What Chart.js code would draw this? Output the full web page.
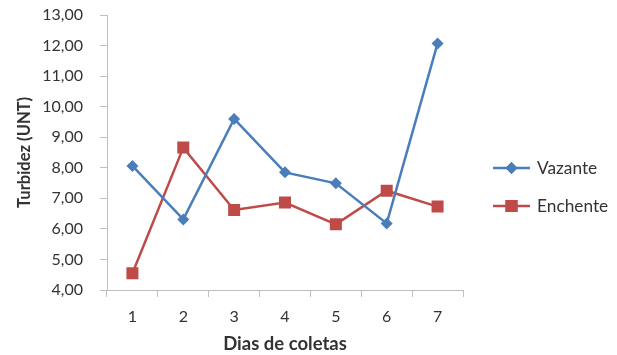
<!DOCTYPE html>
<html>
<head>
<meta charset="utf-8">
<script src="https://cdn.jsdelivr.net/npm/chart.js@4.4.1/dist/chart.umd.min.js"></script>
<style>
  html, body { margin: 0; padding: 0; background: #ffffff; }
  #wrap { width: 617px; height: 355px; }
</style>
</head>
<body>
<div id="wrap"><canvas id="c" width="617" height="355"></canvas></div>
<script>
// Turbidez por dia de coleta
const dias = ['1', '2', '3', '4', '5', '6', '7'];
const vazante = [8.06, 6.31, 9.60, 7.85, 7.49, 6.18, 12.07];
const enchente = [4.55, 8.66, 6.62, 6.86, 6.15, 7.25, 6.73];
const yTicks = [4, 5, 6, 7, 8, 9, 10, 11, 12, 13];

const BLUE = '#4a7ebb';
const RED = '#be4b48';
const AXIS = '#bfbfbf';
const TEXT = '#333333';
const FONT = 'Lato, "Open Sans", sans-serif';

// Legend on the right: line with marker, then the series name
const sideLegend = {
  id: 'sideLegend',
  afterDraw(chart) {
    const ctx = chart.ctx;
    const x0 = chart.chartArea.right + 30;
    const items = [
      { label: 'Vazante', color: BLUE, style: 'rectRot', r: 6, y: 168 },
      { label: 'Enchente', color: RED, style: 'rect', r: 8.5, y: 206 }
    ];
    ctx.save();
    items.forEach(it => {
      ctx.strokeStyle = it.color;
      ctx.lineWidth = 2.5;
      ctx.beginPath();
      ctx.moveTo(x0, it.y);
      ctx.lineTo(x0 + 37, it.y);
      ctx.stroke();
      ctx.fillStyle = it.color;
      Chart.helpers.drawPoint(ctx, { pointStyle: it.style, radius: it.r, borderWidth: 0 }, x0 + 18.5, it.y);
      ctx.fill();
      ctx.fillStyle = TEXT;
      ctx.font = '17.3px ' + FONT;
      ctx.textBaseline = 'middle';
      ctx.textAlign = 'left';
      ctx.fillText(it.label, x0 + 44, it.y);
    });
    ctx.restore();
  }
};

new Chart(document.getElementById('c'), {
  type: 'line',
  data: {
    labels: dias,
    datasets: [
      {
        label: 'Vazante',
        data: vazante,
        borderColor: BLUE,
        backgroundColor: BLUE,
        borderWidth: 2.5,
        pointStyle: 'rectRot',
        pointRadius: 6,
        pointBorderWidth: 0,
        tension: 0
      },
      {
        label: 'Enchente',
        data: enchente,
        borderColor: RED,
        backgroundColor: RED,
        borderWidth: 2.5,
        pointStyle: 'rect',
        pointRadius: 8.5,
        pointBorderWidth: 0,
        tension: 0
      }
    ]
  },
  options: {
    responsive: false,
    animation: false,
    devicePixelRatio: 1,
    layout: { padding: { top: 15, right: 154, bottom: 0, left: 0 } },
    plugins: {
      legend: { display: false },
      tooltip: { enabled: false }
    },
    scales: {
      x: {
        offset: true,
        grid: { offset: true, drawOnChartArea: false, drawTicks: true, tickLength: 7, color: AXIS, lineWidth: 1 },
        border: { color: AXIS, width: 1 },
        ticks: { color: TEXT, font: { family: FONT, size: 16 }, padding: 10, maxRotation: 0 },
        title: { display: true, text: 'Dias de coletas', color: TEXT, font: { family: FONT, size: 18.5, weight: 'bold' }, padding: { top: 0, bottom: 0 } },
        afterFit(scale) { scale.height = 65; scale.paddingLeft = 0; scale.paddingRight = 0; }
      },
      y: {
        min: 4,
        max: 13,
        afterBuildTicks(scale) { scale.ticks = yTicks.map(v => ({ value: v })); },
        grid: { drawOnChartArea: false, drawTicks: true, tickLength: 7, color: AXIS, lineWidth: 1 },
        border: { color: AXIS, width: 1 },
        ticks: {
          color: TEXT,
          font: { family: FONT, size: 16 },
          padding: 17,
          callback: v => v.toFixed(2).replace('.', ',')
        },
        title: { display: true, text: 'Turbidez (UNT)', color: TEXT, font: { family: FONT, size: 16.5, weight: 'bold' }, padding: { top: 14.5, bottom: 0 } },
        afterFit(scale) { scale.width = 107; scale.paddingTop = 0; scale.paddingBottom = 0; }
      }
    }
  },
  plugins: [sideLegend]
});
</script>
</body>
</html>
